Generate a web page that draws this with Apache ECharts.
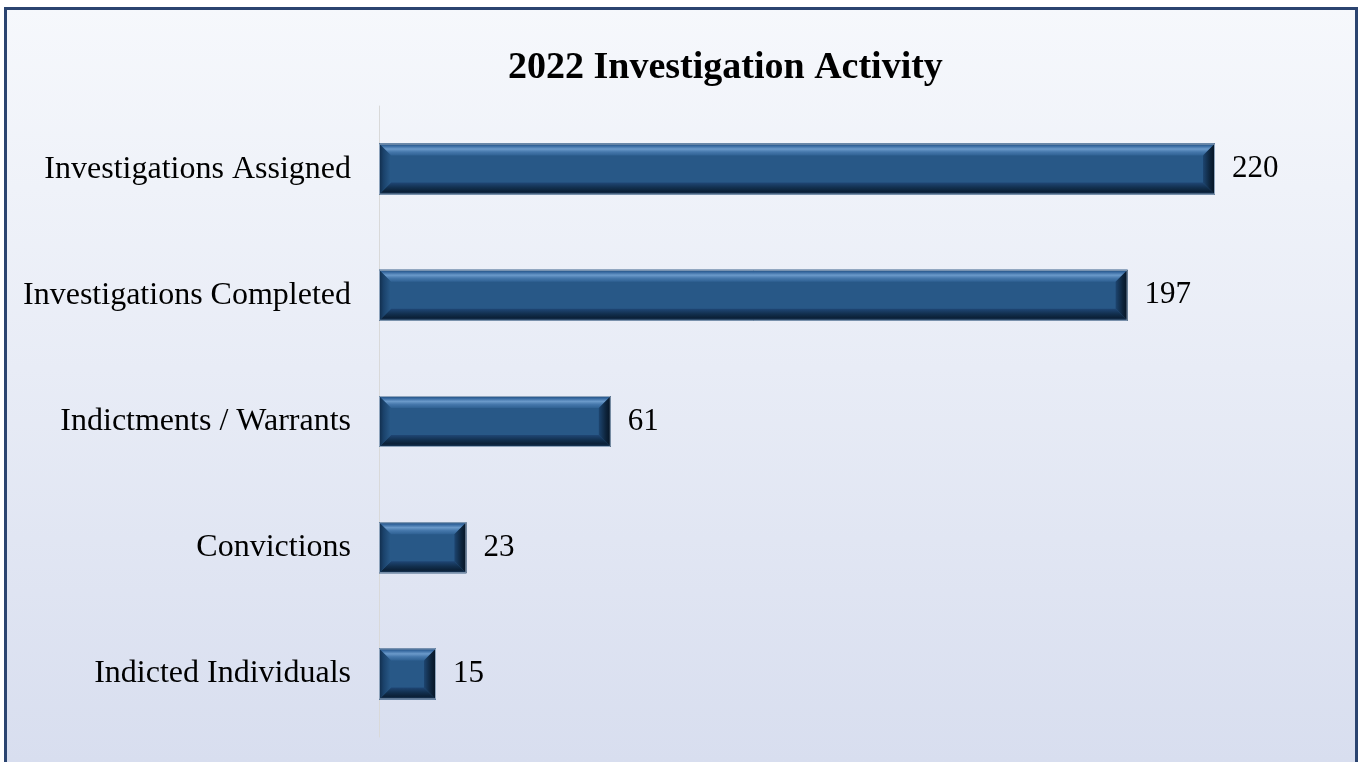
<!DOCTYPE html>
<html>
<head>
<meta charset="utf-8">
<script src="https://cdn.jsdelivr.net/npm/echarts@6/dist/echarts.min.js"></script>
<style>
html,body{margin:0;padding:0;background:#fff;}
#c{width:1362px;height:762px;}
</style>
</head>
<body>
<div id="c"></div>
<script>
const titleText = '2022 Investigation Activity';
const categories = ['Investigations Assigned','Investigations Completed','Indictments / Warrants','Convictions','Indicted Individuals'];
const values = [220,197,61,23,15];

const chart = echarts.init(document.getElementById('c'));
const FONT = '"Liberation Serif","Times New Roman",serif';
const BAR_H = 51;
const BEVEL = 12;

function lin(x1,y1,x2,y2,stops){
  return new echarts.graphic.LinearGradient(x1,y1,x2,y2,stops.map(s=>({offset:s[0],color:s[1]})));
}

function renderBevel(params, api){
  const idx = api.value(1);
  const val = api.value(0);
  const p0 = api.coord([0, idx]);
  const p1 = api.coord([val, idx]);
  const x0 = p0[0], x1 = p1[0], yc = p0[1];
  const t = yc - BAR_H/2, b = yc + BAR_H/2;
  const bv = Math.min(BEVEL, (x1-x0)/2 - 1);
  const children = [
    {type:'rect',z2:1,shape:{x:x0,y:t,width:x1-x0,height:BAR_H},style:{fill:'#285887'}},
    {type:'polygon',z2:10,shape:{points:[[x0,t],[x1,t],[x1-bv,t+bv],[x0+bv,t+bv]]},
      style:{fill:lin(0,0,0,1,[[0,'#1f4a78'],[0.2,'#3769a0'],[0.45,'#6b9aca'],[0.7,'#4577ab'],[1,'#2f6193']])}},
    {type:'polygon',z2:10,shape:{points:[[x0,b],[x1,b],[x1-bv,b-bv],[x0+bv,b-bv]]},
      style:{fill:lin(0,0,0,1,[[0,'#1f4675'],[0.45,'#112e4c'],[0.75,'#0b2037'],[1,'#1d4066']])}},
    {type:'polygon',z2:11,shape:{points:[[x0,t],[x0+bv,t+bv],[x0+bv,b-bv],[x0,b]]},
      style:{fill:lin(0,0,1,0,[[0,'#102c4a'],[0.4,'#1b436c'],[1,'#295a89']])}},
    {type:'polygon',z2:11,shape:{points:[[x1,t],[x1-bv,t+bv],[x1-bv,b-bv],[x1,b]]},
      style:{fill:lin(0,0,1,0,[[0,'#1d4570'],[0.6,'#0d233a'],[1,'#051322']])}},
    {type:'rect',z2:12,shape:{x:x0+0.5,y:t+0.5,width:x1-x0-1,height:BAR_H-1},
      style:{fill:'none',stroke:'#8fa4bc',lineWidth:1}}
  ];
  return {type:'group',children:children};
}

const option = {
  animation:false,
  graphic:[{
    type:'rect', z:-10, silent:true,
    shape:{x:5.5,y:8.5,width:1351,height:800},
    style:{fill:lin(0,0,0,1,[[0,'#f6f8fc'],[0.45,'#e8ecf6'],[0.94,'#d8deef'],[1,'#d6dcee']]),stroke:'#2b4470',lineWidth:3}
  }],
  title:{
    text:titleText, left:503, top:44,
    textStyle:{fontFamily:FONT,fontWeight:'bold',fontSize:38,color:'#000'}
  },
  grid:{left:379,top:106,width:950,bottom:25,containLabel:false},
  xAxis:{type:'value',min:0,max:250,show:false,splitLine:{show:false}},
  yAxis:{
    type:'category',data:categories,inverse:true,
    axisLine:{show:true,lineStyle:{color:'#d9d9d9',width:1}},
    axisTick:{show:false},
    axisLabel:{margin:28,fontFamily:FONT,fontSize:32,color:'#000'}
  },
  series:[
    {
      type:'bar',data:values,barWidth:BAR_H,z:1,
      itemStyle:{color:'rgba(0,0,0,0)'},
      label:{show:true,position:'right',distance:17,fontFamily:FONT,fontSize:31,color:'#000'}
    },
    {
      type:'custom',renderItem:renderBevel,clip:false,
      data:values.map((v,i)=>[v,i]),
      encode:{x:0,y:1},z:5,silent:true
    }
  ]
};
chart.setOption(option);
</script>
</body>
</html>
